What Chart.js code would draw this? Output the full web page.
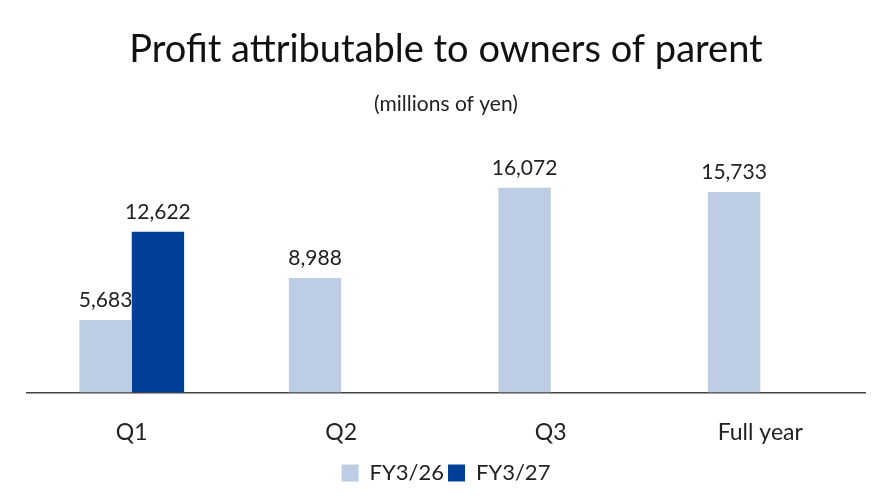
<!DOCTYPE html>
<html>
<head>
<meta charset="utf-8">
<script src="https://cdn.jsdelivr.net/npm/chart.js@4"></script>
<style>
  html, body { margin: 0; padding: 0; background: #fff; }
  #wrap { width: 891px; height: 502px; }
</style>
</head>
<body>
<div id="wrap"><canvas id="grafico" width="891" height="502"></canvas></div>
<script>
const quarters = ['Q1', 'Q2', 'Q3', 'Full year'];
const fy26 = [5683, 8988, 16072, 15733];
const fy27 = [12622, null, null, null];
const seriesNames = ['FY3/26', 'FY3/27'];

const FONT = 'Lato, "Noto Sans", sans-serif';

// etiquetas acima das barras
const rotulos = {
  id: 'rotulos',
  afterDatasetsDraw(chart) {
    const ctx = chart.ctx;
    ctx.save();
    ctx.font = '21px ' + FONT;
    ctx.fillStyle = '#222';
    ctx.textAlign = 'center';
    ctx.textBaseline = 'bottom';
    chart.data.datasets.forEach((ds, i) => {
      chart.getDatasetMeta(i).data.forEach((bar, j) => {
        const v = ds.data[j];
        if (v == null) return;
        ctx.fillText(v.toLocaleString('en-US'), bar.x, bar.y - 9);
      });
    });
    ctx.restore();
  }
};

new Chart(document.getElementById('grafico'), {
  type: 'bar',
  data: {
    labels: quarters,
    datasets: [{
      label: seriesNames[0],
      data: fy26,
      backgroundColor: '#bccde4',
      categoryPercentage: 0.5,
      barPercentage: 1
    }, {
      label: seriesNames[1],
      data: fy27,
      backgroundColor: '#003f98',
      categoryPercentage: 0.5,
      barPercentage: 1
    }]
  },
  options: {
    responsive: false,
    animation: false,
    layout: { padding: { left: 27, right: 26, top: 0, bottom: 8 } },
    scales: {
      x: {
        grid: { display: false, drawTicks: false },
        border: { color: '#444', width: 1.5 },
        ticks: { color: '#222', font: { family: FONT, size: 23 }, padding: 26 },
        // altura fixa do eixo para a linha de base ficar no lugar
        afterFit: (scale) => { scale.height = 65.6; }
      },
      y: {
        display: false,
        min: 0,
        max: 20000
      }
    },
    plugins: {
      title: {
        display: true,
        text: 'Profit attributable to owners of parent',
        color: '#111',
        font: { family: FONT, size: 38, weight: 'normal' },
        padding: { top: 27, bottom: 19 }
      },
      subtitle: {
        display: true,
        text: '(millions of yen)',
        color: '#222',
        font: { family: FONT, size: 21 },
        padding: { bottom: 21 }
      },
      legend: {
        position: 'bottom',
        labels: {
          color: '#222',
          font: { family: FONT, size: 22 },
          boxWidth: 17,
          boxHeight: 17,
          padding: 4
        }
      },
      tooltip: { enabled: false }
    }
  },
  plugins: [rotulos]
});
</script>
</body>
</html>
